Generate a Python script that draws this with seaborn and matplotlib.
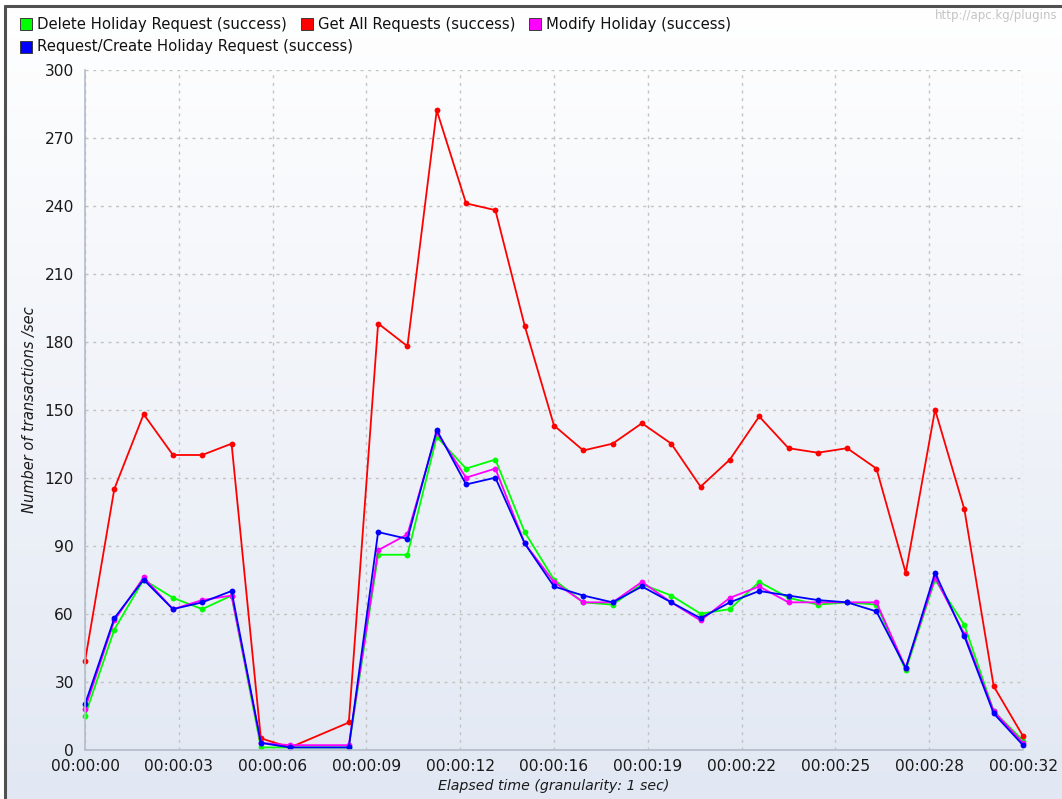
import numpy as np
import pandas as pd
import matplotlib
matplotlib.use("Agg")
import matplotlib.pyplot as plt
from matplotlib.lines import Line2D
from matplotlib.patches import Rectangle
from matplotlib.colors import LinearSegmentedColormap
import seaborn as sns

# Elapsed seconds that have samples (no sample was recorded at second 8)
seconds = [0, 1, 2, 3, 4, 5, 6, 7, 9, 10, 11, 12, 13, 14, 15, 16,
           17, 18, 19, 20, 21, 22, 23, 24, 25, 26, 27, 28, 29, 30, 31, 32]

# Transactions per second for each sampler
delete_holiday = [15, 53, 75, 67, 62, 68, 1, 1, 1, 86, 86, 138, 124, 128, 96, 75,
                  65, 64, 73, 68, 60, 62, 74, 67, 64, 65, 64, 35, 75, 55, 17, 4]
get_all_requests = [39, 115, 148, 130, 130, 135, 5, 1, 12, 188, 178, 282, 241, 238, 187, 143,
                    132, 135, 144, 135, 116, 128, 147, 133, 131, 133, 124, 78, 150, 106, 28, 6]
modify_holiday = [18, 57, 76, 62, 66, 68, 3, 2, 2, 88, 95, 140, 120, 124, 91, 74,
                  65, 65, 74, 65, 57, 67, 72, 65, 65, 65, 65, 36, 76, 51, 17, 3]
request_create = [20, 58, 75, 62, 65, 70, 3, 1, 1, 96, 93, 141, 117, 120, 91, 72,
                  68, 65, 72, 65, 58, 65, 70, 68, 66, 65, 61, 36, 78, 50, 16, 2]

series_names = ["Delete Holiday Request (success)", "Get All Requests (success)",
                "Modify Holiday (success)", "Request/Create Holiday Request (success)"]
series_colors = ["#00ff00", "#ff0000", "#ff00ff", "#0000ff"]

y_ticks = list(range(0, 301, 30))
x_ticks = np.linspace(0, 32, 11)
x_tick_labels = [f"00:00:{int(t + 1e-9):02d}" for t in x_ticks]

records = []
for name, values in zip(series_names,
                        [delete_holiday, get_all_requests, modify_holiday, request_create]):
    for s, v in zip(seconds, values):
        records.append({"second": s, "tps": v, "series": name})
df = pd.DataFrame(records)
palette = dict(zip(series_names, series_colors))

sns.set_style("white")
plt.rcParams["font.family"] = ["DejaVu Sans"]

W, H = 1062, 799
fig = plt.figure(figsize=(W / 100, H / 100), dpi=100)

# Panel background: soft vertical gradient from white to pale blue
bg = fig.add_axes([0, 0, 1, 1], zorder=-10)
bg.imshow(np.linspace(0, 1, 256).reshape(-1, 1), aspect="auto",
          cmap=LinearSegmentedColormap.from_list("panel", ["#ffffff", "#e2e8f3"]),
          extent=[0, 1, 0, 1], origin="upper")
bg.set_xlim(0, 1)
bg.set_ylim(0, 1)
bg.add_patch(Rectangle((0, 0), 4.5 / W, 1, color="white", zorder=5))
bg.add_patch(Rectangle((0, 1 - 5.5 / H), 1, 5.5 / H, color="white", zorder=5))
bg.set_axis_off()

# Window frame on the left and top edges
fig.add_artist(Line2D([4.5 / W, 4.5 / W], [0, 1 - 5.5 / H], transform=fig.transFigure,
                      color="#505050", lw=2.2))
fig.add_artist(Line2D([4.5 / W, 1], [1 - 5.5 / H, 1 - 5.5 / H], transform=fig.transFigure,
                      color="#505050", lw=2.2))

left, right, top, bottom = 85, 1023, 69.6, 749.7
ax = fig.add_axes([left / W, 1 - bottom / H, (right - left) / W, (bottom - top) / H])
ax.patch.set_alpha(0)

sns.lineplot(data=df, x="second", y="tps", hue="series", hue_order=series_names,
             palette=palette, marker="o", markersize=4.2, markeredgewidth=0,
             linewidth=1.3, estimator=None, sort=False, legend=False, ax=ax)
for ln in ax.lines:
    ln.set_clip_on(False)

ax.set_xlim(0, 32)
ax.set_ylim(0, 300)
ax.set_xticks(x_ticks)
ax.set_xticklabels(x_tick_labels)
ax.set_yticks(y_ticks)
ax.set_axisbelow(True)
ax.grid(True, color="#c3c3c3", linestyle=(0, (2.2, 3.3)), linewidth=1.0)

for side in ["top", "right"]:
    ax.spines[side].set_visible(False)
for side in ["left", "bottom"]:
    ax.spines[side].set_color("#b4bccb")
    ax.spines[side].set_linewidth(1.2)

ax.tick_params(axis="both", direction="out", length=4, width=1, color="#b4bccb",
               labelsize=11.2, labelcolor="#1a1a1a")
ax.tick_params(axis="x", pad=3)
ax.tick_params(axis="y", pad=4)

ax.set_xlabel("Elapsed time (granularity: 1 sec)", fontstyle="italic", fontsize=10.2,
              color="#1a1a1a")
ax.xaxis.label.set_va("center")
ax.xaxis.set_label_coords(0.5, (bottom - 786) / (bottom - top))
ax.set_ylabel("Number of transactions /sec", fontstyle="italic", fontsize=10.5,
              color="#1a1a1a")
ax.yaxis.label.set_va("center")
ax.yaxis.set_label_coords((30 - left) / (right - left), 0.5)

# Legend rows laid out left to right
renderer = fig.canvas.get_renderer()
legend_rows = [series_names[:3], series_names[3:]]
row_y = [24, 47]
for names, yp in zip(legend_rows, row_y):
    xp = 20.0
    for name in names:
        fig.add_artist(Line2D([(xp + 6) / W], [1 - yp / H], transform=fig.transFigure,
                              marker="s", markersize=9, markerfacecolor=palette[name],
                              markeredgecolor="#3a3a3a", markeredgewidth=0.7,
                              linestyle="none"))
        t = fig.text((xp + 17) / W, 1 - yp / H, name, fontsize=10.7, va="center",
                     ha="left", color="#111111")
        bb = t.get_window_extent(renderer)
        xp = bb.x1 + 14

fig.text(1057 / W, 1 - 15 / H, "http://apc.kg/plugins", ha="right", va="center",
         fontsize=8.5, color="#c4c4c4")

fig.savefig("out.png", dpi=100)
